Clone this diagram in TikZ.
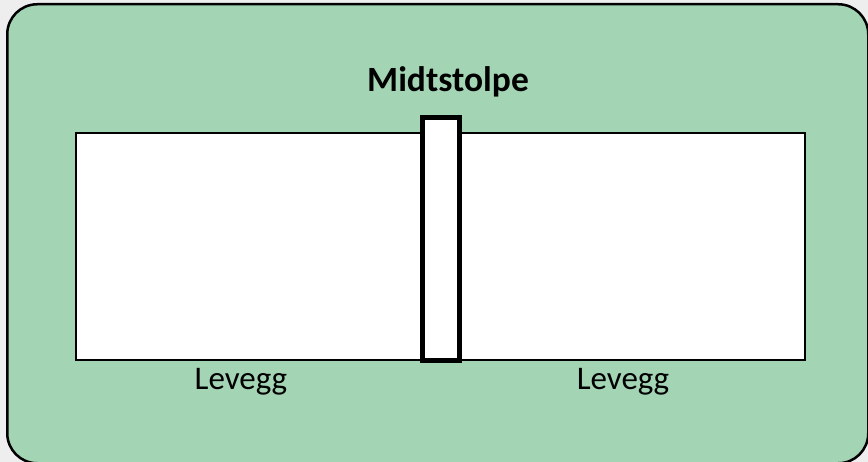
\documentclass[tikz,border=0pt]{standalone}
\usepackage{fontspec}
\setmainfont{Carlito}
\definecolor{panel}{RGB}{163,213,181}
\definecolor{outside}{RGB}{238,238,238}
\begin{document}
\begin{tikzpicture}[x=1pt,y=-1pt,
  panelbox/.style={draw=black,line width=2.5pt,fill=panel,rounded corners=30pt},
  wallbox/.style={draw=black,line width=2pt,fill=white},
  postbox/.style={draw=black,line width=4.5pt,fill=white},
  lbl/.style={font=\fontsize{33}{40}\selectfont,inner sep=0pt}]
\fill[outside] (0,0) rectangle (868,462);
\useasboundingbox (0,0) rectangle (868,462);
\begin{scope}
\clip (0,0) rectangle (868,462);
\node[panelbox,minimum width=861pt,minimum height=459pt,anchor=north west,inner sep=0pt] (panel) at (6,3) {};
\end{scope}
\node[wallbox,minimum width=729pt,minimum height=227pt,anchor=north west,inner sep=0pt] (wall) at (75,132) {};
\node[postbox,minimum width=37pt,minimum height=243pt,anchor=north west,inner sep=0pt] (post) at (420,115.5) {};
\node[lbl,font=\bfseries\fontsize{35.5}{40}\selectfont,anchor=base] (title) at (448,92) {Midtstolpe};
\node[lbl,anchor=base] (left) at (241,389) {Levegg};
\node[lbl,anchor=base] (right) at (623,389) {Levegg};
\end{tikzpicture}
\end{document}
